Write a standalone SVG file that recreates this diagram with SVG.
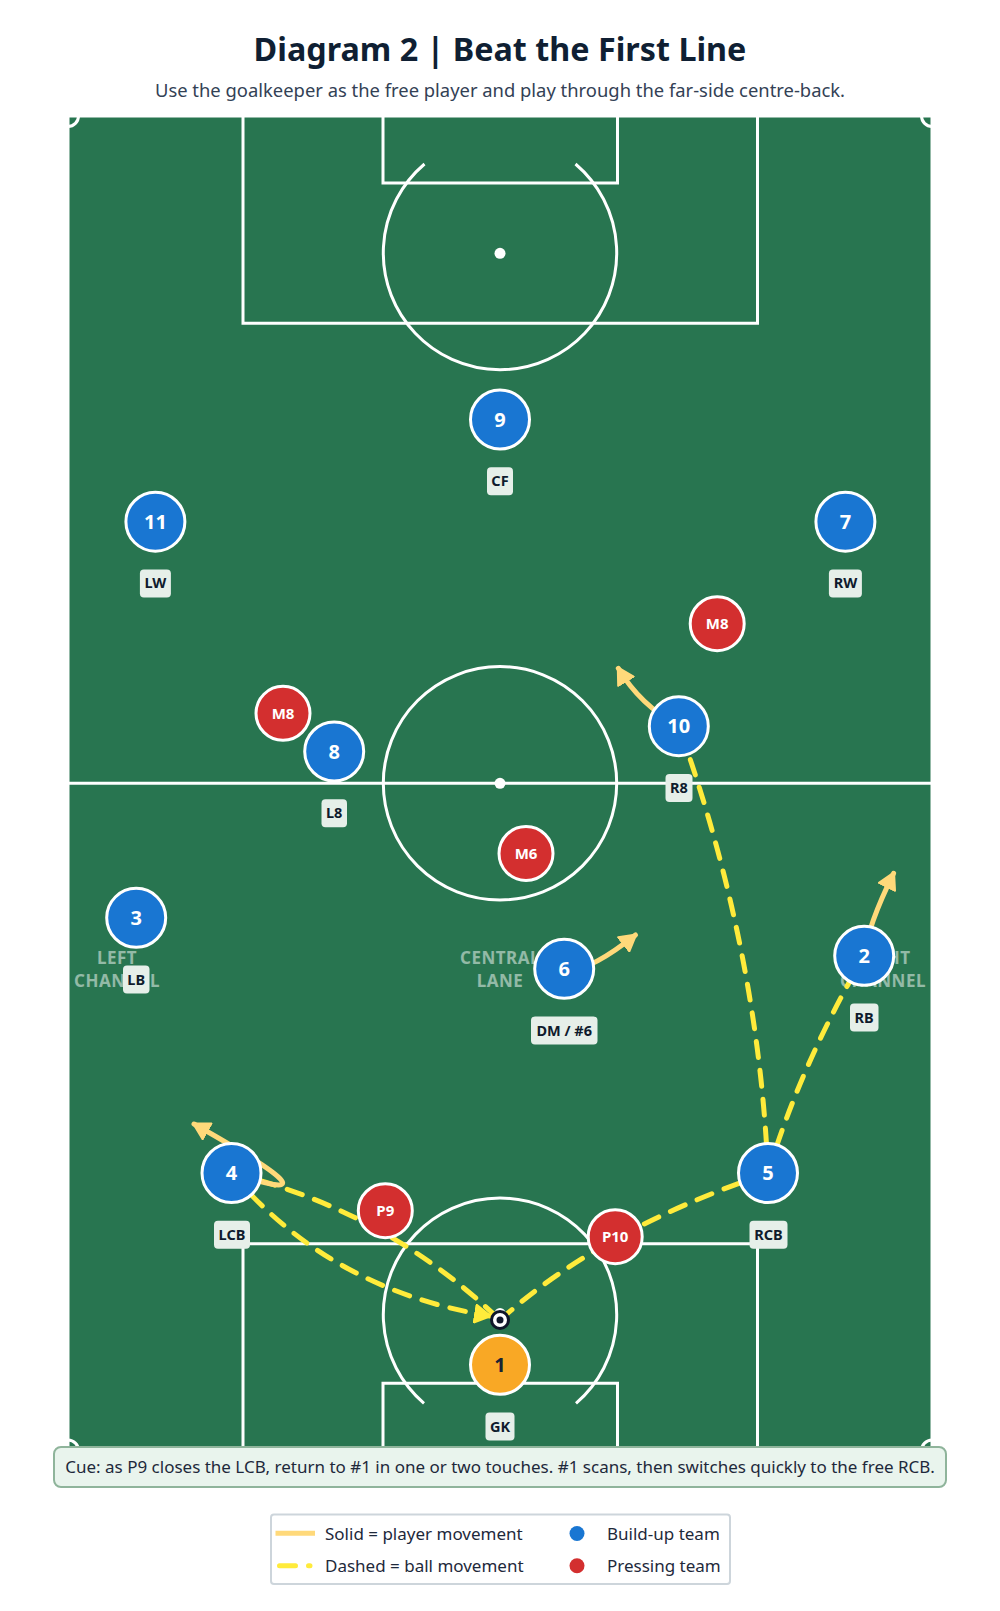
<svg xmlns="http://www.w3.org/2000/svg" width="1000" height="1611" viewBox="0 0 1000 1611">
<style>
.title{font-family:"Noto Sans","Open Sans",sans-serif;font-weight:700;font-size:32.3px;fill:#0f1f33}
.sub{font-family:"Noto Sans","Open Sans",sans-serif;font-size:18.4px;fill:#334155}
.ln{fill:none;stroke:#fff;stroke-width:3}
.spot{fill:#fff}
.chan{font-family:"Noto Sans","Open Sans",sans-serif;font-weight:700;font-size:17px;fill:#fff;fill-opacity:0.5;text-anchor:middle;letter-spacing:0.5px}
.blue{fill:#1976d2;stroke:#fff;stroke-width:3}
.red{fill:#d32f2f;stroke:#fff;stroke-width:3}
.gk{fill:#f9a825;stroke:#fff;stroke-width:3}
.num{font-family:"Noto Sans","Open Sans",sans-serif;font-weight:700;font-size:20px;fill:#fff;text-anchor:middle}
.gknum{fill:#1a2333}
.pnum{font-family:"Noto Sans","Open Sans",sans-serif;font-weight:700;font-size:15px;fill:#fff;text-anchor:middle}
.tag{fill:#e6efe9}
.tagt{font-family:"Noto Sans","Open Sans",sans-serif;font-weight:700;font-size:14.5px;fill:#0f1b2d;text-anchor:middle}
.move{fill:none;stroke:#ffd97a;stroke-width:5;stroke-linecap:round;stroke-linejoin:round}
.pass{fill:none;stroke:#ffeb3b;stroke-width:5;stroke-linecap:round;stroke-dasharray:16 13}
.body{font-family:"Noto Sans","Open Sans",sans-serif;font-size:17px;fill:#1e293b}
</style>
<defs>
<marker id="mHead" viewBox="0 0 18 20" markerWidth="18" markerHeight="20" refX="16" refY="10" orient="auto" markerUnits="userSpaceOnUse">
<path d="M1 1 L17 10 L1 19 Z" fill="#ffd97a" stroke="#ffd97a" stroke-width="2" stroke-linejoin="round"/>
</marker>
<marker id="bHead" viewBox="0 0 18 20" markerWidth="18" markerHeight="20" refX="16" refY="10" orient="auto" markerUnits="userSpaceOnUse">
<path d="M1 1 L17 10 L1 19 Z" fill="#ffeb3b" stroke="#ffeb3b" stroke-width="2" stroke-linejoin="round"/>
</marker>
</defs>
<rect width="1000" height="1611" fill="#fff"/>
<text class="title" x="500" y="61" text-anchor="middle">Diagram 2 | Beat the First Line</text>
<text class="sub" x="500" y="97" text-anchor="middle">Use the goalkeeper as the free player and play through the far-side centre-back.</text>

<g id="pitch">
<rect x="68" y="116" width="864" height="1334.5" fill="#287550" stroke="#fff" stroke-width="3"/>
<path class="ln" d="M68 783.3 H932"/>
<circle class="ln" cx="500" cy="783.3" r="116.7"/>
<circle class="spot" cx="500" cy="783.3" r="5.5"/>
<path class="ln" d="M243 116 V323.3 H757.5 V116"/>
<path class="ln" d="M383 116 V183 H617.5 V116"/>
<circle class="spot" cx="500" cy="253.3" r="5.5"/>
<path class="ln" d="M575.5 164 A116.7 116.7 0 1 1 424.5 164"/>
<path class="ln" d="M243 1450.5 V1243.7 H757.5 V1450.5"/>
<path class="ln" d="M383 1450.5 V1383.3 H617.5 V1450.5"/>
<circle class="spot" cx="500" cy="1313.4" r="5.5"/>
<path class="ln" d="M424 1403.3 A116.7 116.7 0 1 1 576 1403.3"/>
<path class="ln" d="M68 126.5 A10.5 10.5 0 0 0 78.5 116"/>
<path class="ln" d="M921.5 116 A10.5 10.5 0 0 0 932 126.5"/>
<path class="ln" d="M68 1440 A10.5 10.5 0 0 1 78.5 1450.5"/>
<path class="ln" d="M921.5 1450.5 A10.5 10.5 0 0 1 932 1440"/>
<text class="chan" x="117" y="964">LEFT</text>
<text class="chan" x="117" y="987.3">CHANNEL</text>
<text class="chan" x="500" y="964">CENTRAL</text>
<text class="chan" x="500" y="987.3">LANE</text>
<text class="chan" x="883" y="964">RIGHT</text>
<text class="chan" x="883" y="987.3">CHANNEL</text>
</g>

<g id="connectors">
<path class="pass" d="M231.5 1173 Q385 1210 500 1320"/>
<path class="pass" d="M231.5 1173 Q330 1290 490 1316" marker-end="url(#bHead)"/>
<path class="pass" d="M500 1320 Q600 1230 768 1173"/>
<path class="pass" d="M768 1173 Q758.6 950.5 678.8 726.2"/>
<path class="pass" d="M768 1173 Q800.9 1064.4 864.2 955.8"/>
<path class="move" d="M231.5 1173 Q350 1212 194 1124" marker-end="url(#mHead)"/>
<path class="move" d="M678.8 726.2 Q640 705 618.3 668.3" marker-end="url(#mHead)"/>
<path class="move" d="M564.2 968.8 Q585 975 635.5 935" marker-end="url(#mHead)"/>
<path class="move" d="M864.2 955.8 Q868 925 893.6 873.3" marker-end="url(#mHead)"/>
</g>

<g id="ball">
<circle cx="500" cy="1320" r="8.5" fill="#fff" stroke="#0f172a" stroke-width="3"/>
<circle cx="500" cy="1320" r="3.5" fill="#0f172a"/>
</g>

<g id="p9"><circle class="blue" cx="500" cy="419.5" r="29.5"/><text class="num" x="500" y="426.5">9</text><rect class="tag" x="487" y="467.2" width="26" height="28" rx="4"/><text class="tagt" x="500" y="486.2">CF</text></g>
<g id="p11"><circle class="blue" cx="155.4" cy="521.7" r="29.5"/><text class="num" x="155.4" y="528.7">11</text><rect class="tag" x="139.9" y="569.4" width="31" height="28" rx="4"/><text class="tagt" x="155.4" y="588.4">LW</text></g>
<g id="p7"><circle class="blue" cx="845.4" cy="521.7" r="29.5"/><text class="num" x="845.4" y="528.7">7</text><rect class="tag" x="828.9" y="569.4" width="33" height="28" rx="4"/><text class="tagt" x="845.4" y="588.4">RW</text></g>
<g id="p8"><circle class="blue" cx="334.2" cy="751.5" r="29.5"/><text class="num" x="334.2" y="758.5">8</text><rect class="tag" x="321.5" y="799.2" width="25.5" height="28" rx="4"/><text class="tagt" x="334.2" y="818.2">L8</text></g>
<g id="p10"><circle class="blue" cx="678.8" cy="726.2" r="29.5"/><text class="num" x="678.8" y="733.2">10</text><rect class="tag" x="665.5" y="774" width="27" height="28" rx="4"/><text class="tagt" x="679" y="793">R8</text></g>
<g id="p3"><circle class="blue" cx="136.2" cy="917.8" r="29.5"/><text class="num" x="136.2" y="924.8">3</text><rect class="tag" x="123" y="965.5" width="26.5" height="28" rx="4"/><text class="tagt" x="136.2" y="984.5">LB</text></g>
<g id="p6"><circle class="blue" cx="564.2" cy="968.8" r="29.5"/><text class="num" x="564.2" y="975.8">6</text><rect class="tag" x="531" y="1016.5" width="66.5" height="28" rx="4"/><text class="tagt" x="564.2" y="1035.5">DM / #6</text></g>
<g id="p2"><circle class="blue" cx="864.2" cy="955.8" r="29.5"/><text class="num" x="864.2" y="962.8">2</text><rect class="tag" x="850" y="1003.5" width="28.5" height="28" rx="4"/><text class="tagt" x="864.2" y="1022.5">RB</text></g>
<g id="p4"><circle class="blue" cx="231.5" cy="1173" r="29.5"/><text class="num" x="231.5" y="1180">4</text><rect class="tag" x="214" y="1220.7" width="36" height="28" rx="4"/><text class="tagt" x="232" y="1239.7">LCB</text></g>
<g id="p5"><circle class="blue" cx="768" cy="1173" r="29.5"/><text class="num" x="768" y="1180">5</text><rect class="tag" x="749.5" y="1220.7" width="38" height="28" rx="4"/><text class="tagt" x="768.5" y="1239.7">RCB</text></g>
<g id="p1"><circle class="gk" cx="500" cy="1364.8" r="29.5"/><text class="num gknum" x="500" y="1371.8">1</text><rect class="tag" x="485.5" y="1412.5" width="29" height="28" rx="4"/><text class="tagt" x="500" y="1431.5">GK</text></g>

<g id="m8r"><circle class="red" cx="717.2" cy="623.7" r="27"/><text class="pnum" x="717.2" y="629.2">M8</text></g>
<g id="m8l"><circle class="red" cx="283" cy="713.3" r="27"/><text class="pnum" x="283" y="718.8">M8</text></g>
<g id="m6"><circle class="red" cx="526" cy="853.5" r="27"/><text class="pnum" x="526" y="859">M6</text></g>
<g id="pr9"><circle class="red" cx="385.3" cy="1210.7" r="27"/><text class="pnum" x="385.3" y="1216.2">P9</text></g>
<g id="pr10"><circle class="red" cx="615.2" cy="1236.7" r="27"/><text class="pnum" x="615.2" y="1242.2">P10</text></g>

<g id="cue">
<rect x="54" y="1447" width="892" height="40" rx="7" fill="#e9f4ed" stroke="#8fb49b" stroke-width="2"/>
<text class="body" x="500" y="1472.5" text-anchor="middle">Cue: as P9 closes the LCB, return to #1 in one or two touches. #1 scans, then switches quickly to the free RCB.</text>
</g>

<g id="legend">
<rect x="271" y="1514.5" width="459" height="69.5" rx="3" fill="#fff" stroke="#cdd5db" stroke-width="2"/>
<line x1="275.5" y1="1533.3" x2="315" y2="1533.3" stroke="#ffd97a" stroke-width="5"/>
<text class="body" x="325" y="1539.5">Solid = player movement</text>
<line x1="279.5" y1="1565.7" x2="310" y2="1565.7" class="pass"/>
<text class="body" x="325" y="1571.5">Dashed = ball movement</text>
<circle cx="577" cy="1533.5" r="7.5" fill="#1976d2"/>
<text class="body" x="607" y="1539.5">Build-up team</text>
<circle cx="577" cy="1565.7" r="7.5" fill="#d32f2f"/>
<text class="body" x="607" y="1571.5">Pressing team</text>
</g>
</svg>
